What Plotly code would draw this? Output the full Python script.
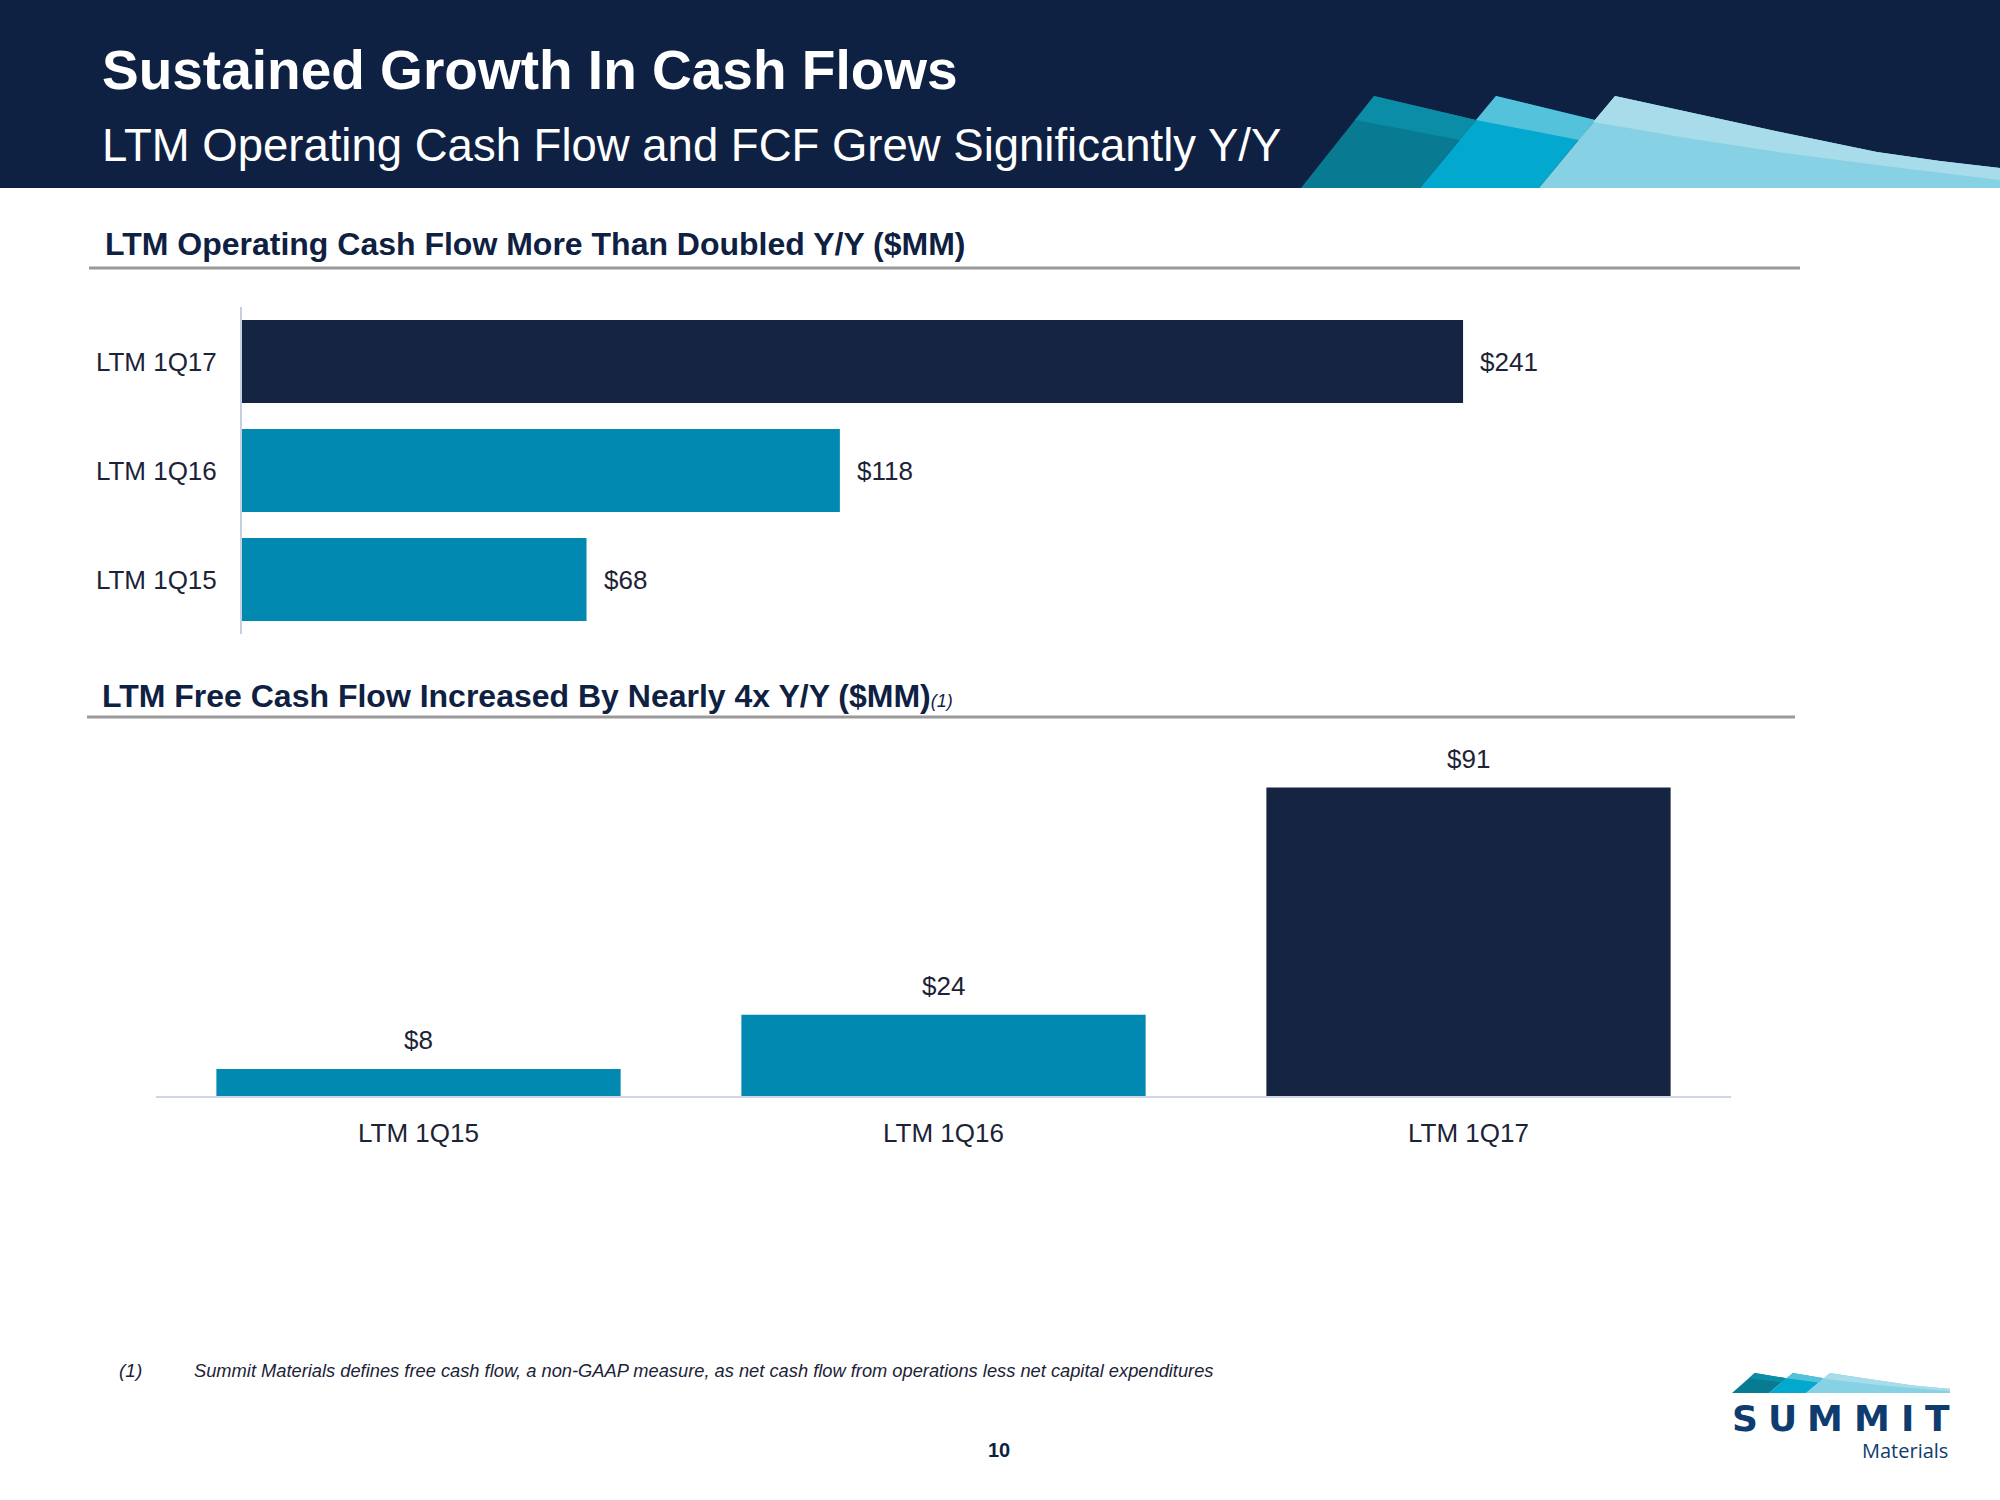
import plotly.graph_objects as go

# ---------------- data ----------------
periods = ["LTM 1Q15", "LTM 1Q16", "LTM 1Q17"]
operating_cash_flow = [68, 118, 241]   # $MM
free_cash_flow = [8, 24, 91]           # $MM

title_main = "Sustained Growth In Cash Flows"
title_sub = "LTM Operating Cash Flow and FCF Grew Significantly Y/Y"
title_ocf = "LTM Operating Cash Flow More Than Doubled Y/Y ($MM)"
title_fcf = "LTM Free Cash Flow Increased By Nearly 4x Y/Y ($MM)"
footnote_mark = "(1)"
footnote_text = ("Summit Materials defines free cash flow, a non-GAAP measure, as net cash flow "
                 "from operations less net capital expenditures")
page_number = "10"

# ---------------- style ----------------
W, H = 2000, 1500
NAVY = "#152441"
TEAL = "#0289b1"
HEADER = "#0f2142"
TXT = "#1c2337"
FONT = "Liberation Sans Narrow, Arial Narrow, Liberation Sans, Arial, sans-serif"
bar_colors = [TEAL, TEAL, NAVY]


def px(x):
    return x / W


def py(y):
    return 1 - y / H


def path(points):
    return "M " + " L ".join(f"{px(x):.5f},{py(y):.5f}" for x, y in points) + " Z"


fig = go.Figure()

# horizontal bars: operating cash flow
fig.add_trace(go.Bar(
    x=operating_cash_flow, y=periods, orientation="h",
    marker=dict(color=bar_colors, line=dict(width=0)),
    xaxis="x", yaxis="y", hoverinfo="skip", width=0.76,
))
# vertical bars: free cash flow
fig.add_trace(go.Bar(
    x=periods, y=free_cash_flow,
    marker=dict(color=bar_colors, line=dict(width=0)),
    xaxis="x2", yaxis="y2", hoverinfo="skip", width=0.77,
))

annotations = []
for p, v in zip(periods, operating_cash_flow):
    annotations.append(dict(x=v, y=p, xref="x", yref="y", text=f"${v}",
                            xanchor="left", yanchor="middle", xshift=15, showarrow=False,
                            font=dict(family=FONT, size=26, color=TXT)))
for p, v in zip(periods, free_cash_flow):
    annotations.append(dict(x=p, y=v, xref="x2", yref="y2", text=f"${v}",
                            xanchor="center", yanchor="bottom", yshift=12, showarrow=False,
                            font=dict(family=FONT, size=26, color=TXT)))

# header texts
annotations.append(dict(x=px(100), y=py(70), xref="paper", yref="paper", text=f"<b>{title_main}</b>",
                        xanchor="left", yanchor="middle", showarrow=False,
                        font=dict(family=FONT, size=55, color="white")))
annotations.append(dict(x=px(100), y=py(145), xref="paper", yref="paper", text=title_sub,
                        xanchor="left", yanchor="middle", showarrow=False,
                        font=dict(family=FONT, size=45.5, color="white")))
# section titles
annotations.append(dict(x=px(103), y=py(244), xref="paper", yref="paper", text=f"<b>{title_ocf}</b>",
                        xanchor="left", yanchor="middle", showarrow=False,
                        font=dict(family=FONT, size=32, color=HEADER)))
annotations.append(dict(x=px(100), y=py(696), xref="paper", yref="paper",
                        text=f"<b>{title_fcf}</b><i><span style='font-size:18px'>{footnote_mark}</span></i>",
                        xanchor="left", yanchor="middle", showarrow=False,
                        font=dict(family=FONT, size=32, color=HEADER)))
# footnote
annotations.append(dict(x=px(117), y=py(1370), xref="paper", yref="paper", text=f"<i>{footnote_mark}</i>",
                        xanchor="left", yanchor="middle", showarrow=False,
                        font=dict(family=FONT, size=19, color=TXT)))
annotations.append(dict(x=px(192), y=py(1370), xref="paper", yref="paper", text=f"<i>{footnote_text}</i>",
                        xanchor="left", yanchor="middle", showarrow=False,
                        font=dict(family=FONT, size=18.3, color=TXT)))
annotations.append(dict(x=px(999), y=py(1450), xref="paper", yref="paper", text=f"<b>{page_number}</b>",
                        xanchor="center", yanchor="middle", showarrow=False,
                        font=dict(family=FONT, size=20, color=HEADER)))
# logo text
LOGO = "#0e3c6e"
for ch, cx in zip("SUMMIT", [1745, 1782, 1825, 1872, 1907, 1937]):
    annotations.append(dict(x=px(cx), y=py(1418), xref="paper", yref="paper", text=f"<b>{ch}</b>",
                            xanchor="center", yanchor="middle", showarrow=False,
                            font=dict(family="DejaVu Sans", size=36, color=LOGO)))
annotations.append(dict(x=px(1950), y=py(1450), xref="paper", yref="paper", text="Materials",
                        xanchor="right", yanchor="middle", showarrow=False,
                        font=dict(family="Open Sans, DejaVu Sans", size=20, color=LOGO)))

# ---------------- shapes ----------------
shapes = []
shapes.append(dict(type="rect", xref="paper", yref="paper", x0=0, x1=1, y0=py(188), y1=1,
                   fillcolor=HEADER, line=dict(width=0), layer="below"))

A = [(1301, 188), (1374, 96), (1476, 120), (1420, 188)]
A_up = [(1374, 96), (1476, 120), (1460, 140), (1355, 120)]
B = [(1420, 188), (1496, 96), (1595, 120), (1539, 188)]
B_up = [(1496, 96), (1595, 120), (1579, 140), (1476, 120)]
C_top = [(1615, 96), (1693, 113), (1785, 133), (1877, 152), (1940, 161), (2000, 168)]
C = [(1539, 188)] + C_top + [(2000, 188)]
C_bound = [(1593, 122), (1693, 139), (1785, 153), (1877, 165), (2000, 180)]
C_up = C_top + list(reversed(C_bound))

deco = [(A, "#087b92"), (A_up, "#0b8ca7"), (B, "#03a8cf"), (B_up, "#55c2dc"),
        (C, "#86d1e4"), (C_up, "#a9dcea")]
for pts, col in deco:
    shapes.append(dict(type="path", xref="paper", yref="paper", path=path(pts),
                       fillcolor=col, line=dict(width=0), layer="below"))


# logo mountains (scaled copy)
def to_logo(pts):
    return [(1732 + (x - 1301) * 218 / 699, 1373 + (y - 96) * 20 / 92) for x, y in pts]


for pts, col in deco:
    shapes.append(dict(type="path", xref="paper", yref="paper", path=path(to_logo(pts)),
                       fillcolor=col, line=dict(width=0), layer="below"))

# section underlines
shapes.append(dict(type="line", xref="paper", yref="paper", x0=px(89), x1=px(1800), y0=py(268), y1=py(268),
                   line=dict(color="#9a9a9a", width=3)))
shapes.append(dict(type="line", xref="paper", yref="paper", x0=px(87), x1=px(1795), y0=py(717), y1=py(717),
                   line=dict(color="#9a9a9a", width=3)))

fig.update_layout(
    width=W, height=H, margin=dict(l=0, r=0, t=0, b=0),
    paper_bgcolor="white", plot_bgcolor="white", showlegend=False,
    font=dict(family=FONT, size=26, color=TXT),
    annotations=annotations, shapes=shapes,
    xaxis=dict(domain=[px(242), px(1762)], range=[0, 300], visible=False, fixedrange=True),
    yaxis=dict(domain=[py(634), py(307)], categoryorder="array", categoryarray=periods,
               range=[-0.5, 2.5], showline=True, linecolor="#c7d0e0", linewidth=2,
               showgrid=False, zeroline=False, ticks="", ticklabelstandoff=18,
               tickfont=dict(family=FONT, size=26, color=TXT)),
    xaxis2=dict(domain=[px(156), px(1731)], anchor="y2", categoryorder="array", categoryarray=periods,
                range=[-0.5, 2.5], showline=True, linecolor="#cfd7e6", linewidth=2,
                showgrid=False, zeroline=False, ticks="", ticklabelstandoff=13,
                tickfont=dict(family=FONT, size=26, color=TXT)),
    yaxis2=dict(domain=[py(1096), py(740)], anchor="x2", range=[0, (1096 - 740) / 3.39], visible=False),
)

fig.write_html("out.html", config={"displayModeBar": False},
               post_script="document.body.style.margin='0';document.body.style.overflow='hidden';")
